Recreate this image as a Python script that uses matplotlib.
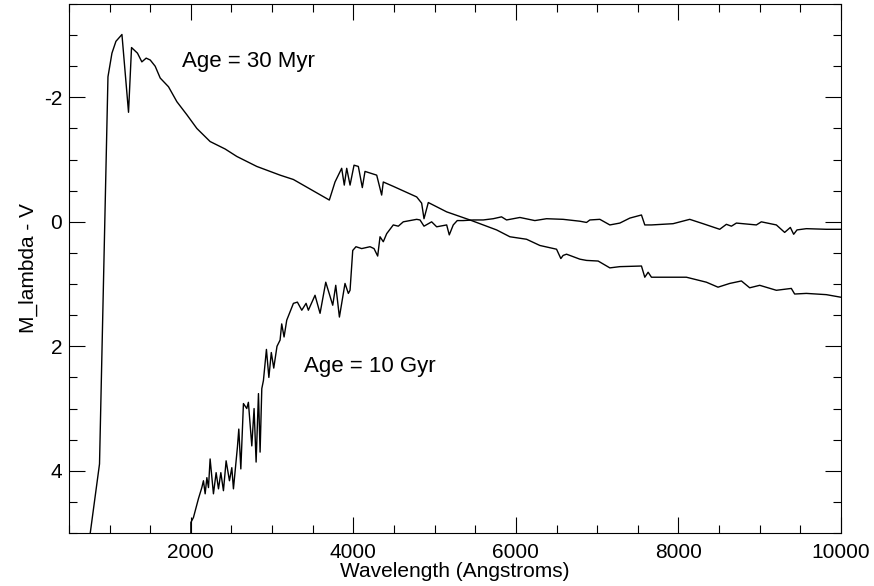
import numpy as np
import matplotlib.pyplot as plt
from matplotlib.ticker import MultipleLocator

plt.rcParams['font.family'] = ['Liberation Sans', 'DejaVu Sans']
plt.rcParams['axes.unicode_minus'] = False

# Age = 30 Myr spectrum (wavelength in Angstroms, M_lambda - V)
wave_young = [762, 876, 980, 1029, 1078, 1152, 1233, 1270, 1343, 1397, 1450, 1500,
              1561, 1623, 1725, 1828, 1951, 2074, 2237, 2422, 2566, 2811, 3098, 3262,
              3704, 3774, 3856, 3888, 3918, 3959, 4008, 4061, 4110, 4143, 4287, 4348,
              4368, 4491, 4779, 4840, 4869, 4922, 5148, 5434, 5762, 5926, 6131, 6295,
              6500, 6553, 6581, 6623, 6787, 6869, 7012, 7156, 7279, 7545, 7586, 7627,
              7668, 8098, 8344, 8487, 8631, 8775, 8877, 9000, 9205, 9389, 9430, 9574,
              9820, 9992]
mag_young = [5.0, 3.89, -2.33, -2.71, -2.90, -3.01, -1.76, -2.80, -2.71, -2.57, -2.63, -2.60,
             -2.50, -2.31, -2.17, -1.93, -1.72, -1.50, -1.29, -1.17, -1.05, -0.89, -0.75, -0.68,
             -0.35, -0.64, -0.86, -0.59, -0.86, -0.59, -0.91, -0.89, -0.55, -0.81, -0.75, -0.43,
             -0.64, -0.57, -0.40, -0.30, -0.05, -0.31, -0.16, -0.03, 0.13, 0.24, 0.28, 0.38,
             0.44, 0.59, 0.54, 0.52, 0.60, 0.62, 0.63, 0.74, 0.72, 0.71, 0.89, 0.81,
             0.89, 0.89, 0.97, 1.05, 0.99, 0.95, 1.06, 1.02, 1.10, 1.07, 1.16, 1.15,
             1.17, 1.21]

# Age = 10 Gyr spectrum
wave_old = [2000, 2000, 2032, 2093, 2135, 2155, 2176, 2197, 2217, 2237, 2278, 2311,
            2340, 2369, 2401, 2434, 2475, 2504, 2524, 2573, 2590, 2615, 2647, 2688,
            2708, 2750, 2778, 2803, 2832, 2852, 2873, 2893, 2930, 2960, 2990, 3020,
            3060, 3098, 3118, 3147, 3180, 3262, 3311, 3365, 3418, 3446, 3528, 3590,
            3660, 3746, 3783, 3828, 3897, 3938, 3959, 3992, 4032, 4102, 4205, 4254,
            4299, 4328, 4368, 4410, 4491, 4553, 4614, 4779, 4820, 4869, 4963, 5025,
            5148, 5180, 5229, 5278, 5352, 5475, 5598, 5721, 5823, 5885, 6049, 6233,
            6377, 6581, 6786, 6869, 6910, 7033, 7156, 7279, 7402, 7545, 7586, 7668,
            7934, 8139, 8303, 8508, 8590, 8652, 8713, 8959, 9020, 9205, 9307, 9377,
            9418, 9459, 9574, 9820, 9992]
mag_old = [5.0, 4.83, 4.75, 4.45, 4.27, 4.16, 4.37, 4.11, 4.27, 3.81, 4.37, 4.03,
           4.29, 4.03, 4.32, 3.84, 4.16, 3.95, 4.29, 3.62, 3.33, 3.97, 2.92, 3.00,
           2.90, 3.60, 3.00, 3.86, 2.76, 3.70, 2.68, 2.55, 2.05, 2.50, 2.10, 2.35,
           2.00, 1.90, 1.64, 1.85, 1.58, 1.31, 1.29, 1.42, 1.31, 1.42, 1.18, 1.47,
           0.97, 1.34, 1.02, 1.53, 0.99, 1.15, 1.10, 0.46, 0.40, 0.43, 0.40, 0.43,
           0.55, 0.24, 0.32, 0.19, 0.05, 0.07, 0.00, -0.04, -0.03, 0.07, 0.00, 0.08,
           0.05, 0.21, 0.05, -0.02, -0.02, -0.03, -0.03, -0.05, -0.08, -0.03, -0.07, -0.02,
           -0.05, -0.04, -0.01, 0.01, -0.03, -0.04, 0.05, 0.02, -0.06, -0.11, 0.05, 0.05,
           0.03, -0.04, 0.03, 0.12, 0.04, 0.07, 0.02, 0.05, 0.00, 0.05, 0.17, 0.09,
           0.20, 0.13, 0.11, 0.12, 0.12]

fig = plt.figure(figsize=(8.74, 5.86), dpi=100)
ax = fig.add_axes([0.0789, 0.0904, 0.8833, 0.9028])

ax.plot(wave_young, mag_young, color='black', lw=1.0)
ax.plot(wave_old, mag_old, color='black', lw=1.0)

ax.set_xlim(500, 10000)
ax.set_ylim(5, -3.5)

ax.text(1893, -2.57, 'Age = 30 Myr', fontsize=16, va='center', ha='left')
ax.text(3394, 2.32, 'Age = 10 Gyr', fontsize=16, va='center', ha='left')

ax.xaxis.set_major_locator(MultipleLocator(2000))
ax.xaxis.set_minor_locator(MultipleLocator(500))
ax.yaxis.set_major_locator(MultipleLocator(2))
ax.yaxis.set_minor_locator(MultipleLocator(0.5))
ax.tick_params(which='both', direction='in', top=True, right=True, labelsize=15)
ax.tick_params(which='major', length=11.5, width=0.8)
ax.tick_params(which='minor', length=5.8, width=0.8)
ax.tick_params(axis='x', pad=7)
ax.tick_params(axis='y', pad=5)
for s in ax.spines.values():
    s.set_linewidth(0.8)

ax.set_xlabel('Wavelength (Angstroms)', fontsize=15, labelpad=0)
ax.set_ylabel('M_lambda - V', fontsize=15, labelpad=4)

fig.savefig('out.png', dpi=100)
